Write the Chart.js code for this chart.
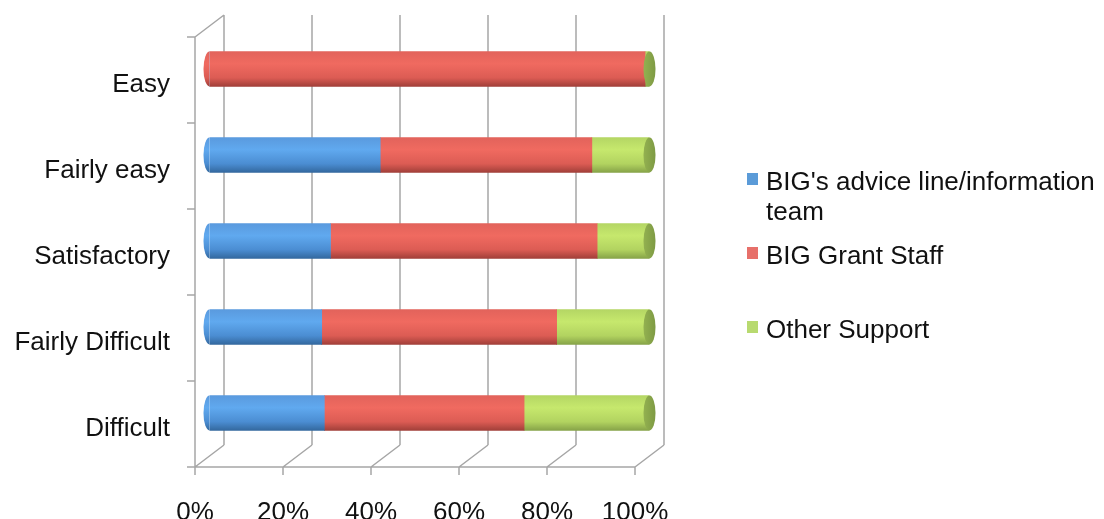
<!DOCTYPE html>
<html>
<head>
<meta charset="utf-8">
<script src="https://cdn.jsdelivr.net/npm/chart.js@4.4.0/dist/chart.umd.min.js"></script>
<style>
  html, body { margin: 0; padding: 0; background: #ffffff; }
  #wrap { position: relative; width: 1104px; height: 519px; }
</style>
</head>
<body>
<div id="wrap"><canvas id="c" width="1104" height="519"></canvas></div>
<script>
const categories = ['Easy', 'Fairly easy', 'Satisfactory', 'Fairly Difficult', 'Difficult'];
const adviceLine = [0, 38.8, 27.5, 25.5, 26.1];
const grantStaff = [99, 48.1, 60.6, 53.4, 45.4];
const otherSupport = [1, 13.1, 11.9, 21.1, 28.5];
const seriesNames = ["BIG's advice line/information team", 'BIG Grant Staff', 'Other Support'];
const xTickValues = [0, 20, 40, 60, 80, 100];

const FONT = '"Liberation Sans", Arial, sans-serif';
const DX = 14.5, DY = 11;   // half depth offset of the 3D frame
const BAR_H = 35;

function cyl(stops, flat) {
  return (ctx) => {
    const chart = ctx.chart;
    const ys = chart.scales && chart.scales.y;
    if (!ys || ctx.dataIndex === undefined) return flat;
    const yc = ys.getPixelForValue(ctx.dataIndex);
    if (!isFinite(yc)) return flat;
    const g = chart.ctx.createLinearGradient(0, yc - BAR_H / 2, 0, yc + BAR_H / 2);
    stops.forEach(s => g.addColorStop(s[0], s[1]));
    return g;
  };
}

const blueStops = [[0, '#5a9ade'], [0.35, '#60a9ef'], [0.75, '#4b8dd2'], [1, '#33689e']];
const redStops = [[0, '#e2635b'], [0.35, '#f06a60'], [0.75, '#dc5c54'], [1, '#a13f39']];
const greenStops = [[0, '#b4d664'], [0.35, '#c6e86d'], [0.75, '#b2d360'], [1, '#86a348']];
const legendColors = ['#5b9bd8', '#e7706a', '#b8da70'];

function noPad(s) {
  s.paddingTop = 0; s.paddingBottom = 0; s.paddingLeft = 0; s.paddingRight = 0;
}

const frame3d = {
  id: 'frame3d',
  beforeDatasetsDraw(chart) {
    const { ctx, chartArea: a, scales: { x } } = chart;
    ctx.save();
    ctx.strokeStyle = '#a6a6a6';
    ctx.lineWidth = 1.5;
    ctx.beginPath();
    xTickValues.forEach(v => {
      const px = x.getPixelForValue(v);
      ctx.moveTo(px + DX, a.top - DY);
      ctx.lineTo(px + DX, a.bottom - DY);
      ctx.moveTo(px - DX, a.bottom + DY);
      ctx.lineTo(px + DX, a.bottom - DY);
      ctx.moveTo(px - DX, a.bottom + DY);
      ctx.lineTo(px - DX, a.bottom + DY + 8);
    });
    const x0 = x.getPixelForValue(0), x1 = x.getPixelForValue(100);
    ctx.moveTo(x0 - DX, a.bottom + DY);
    ctx.lineTo(x1 - DX, a.bottom + DY);
    ctx.moveTo(x0 - DX, a.top + DY);
    ctx.lineTo(x0 - DX, a.bottom + DY);
    ctx.moveTo(x0 - DX, a.top + DY);
    ctx.lineTo(x0 + DX, a.top - DY);
    const n = categories.length;
    const band = (a.bottom - a.top) / n;
    for (let i = 0; i <= n; i++) {
      const yy = a.top + DY + band * i;
      ctx.moveTo(x0 - DX - 8, yy);
      ctx.lineTo(x0 - DX, yy);
    }
    ctx.stroke();
    ctx.restore();
  },
  afterDatasetsDraw(chart) {
    const { ctx } = chart;
    const metas = chart.data.datasets.map((d, i) => chart.getDatasetMeta(i));
    ctx.save();
    categories.forEach((c, i) => {
      let first = -1, last = -1;
      chart.data.datasets.forEach((d, k) => {
        if (d.data[i] > 0) { if (first < 0) first = k; last = k; }
      });
      if (first < 0) return;
      const fe = metas[first].data[i];
      const le = metas[last].data[i];
      const h = fe.height / 2;
      ctx.beginPath();
      ctx.ellipse(fe.base, fe.y, 6, h, 0, Math.PI / 2, Math.PI * 1.5);
      ctx.closePath();
      ctx.fillStyle = fe.options.backgroundColor;
      ctx.fill();
      ctx.beginPath();
      ctx.ellipse(le.x, le.y, 6, le.height / 2, 0, 0, Math.PI * 2);
      const g = ctx.createLinearGradient(le.x - 6, 0, le.x + 6, 0);
      g.addColorStop(0, '#93b150');
      g.addColorStop(1, '#7e9a44');
      ctx.fillStyle = g;
      ctx.fill();
    });
    ctx.restore();
  }
};

const legendPlugin = {
  id: 'sideLegend',
  afterDraw(chart) {
    const { ctx } = chart;
    ctx.save();
    ctx.font = '26px ' + FONT;
    ctx.textBaseline = 'middle';
    ctx.textAlign = 'left';
    const items = [
      { lines: ["BIG's advice line/information", 'team'], y: 183 },
      { lines: [seriesNames[1]], y: 257 },
      { lines: [seriesNames[2]], y: 331 }
    ];
    items.forEach((it, k) => {
      ctx.fillStyle = legendColors[k];
      ctx.fillRect(747, it.y - 10, 11, 12);
      ctx.fillStyle = '#111';
      it.lines.forEach((ln, j) => ctx.fillText(ln, 766, it.y + j * 30));
    });
    ctx.restore();
  }
};

new Chart(document.getElementById('c'), {
  type: 'bar',
  data: {
    labels: categories,
    datasets: [
      { label: seriesNames[0], data: adviceLine, backgroundColor: cyl(blueStops, '#5aa0e6') },
      { label: seriesNames[1], data: grantStaff, backgroundColor: cyl(redStops, '#ec675e') },
      { label: seriesNames[2], data: otherSupport, backgroundColor: cyl(greenStops, '#c0e26a') }
    ]
  },
  options: {
    indexAxis: 'y',
    responsive: false,
    animation: false,
    events: [],
    barThickness: BAR_H,
    borderWidth: 0,
    layout: { padding: { top: 26, right: 454.5, left: 0, bottom: 0 } },
    plugins: { legend: { display: false }, tooltip: { enabled: false } },
    scales: {
      x: {
        stacked: true,
        min: 0, max: 100,
        afterBuildTicks: (s) => { s.ticks = xTickValues.map(v => ({ value: v })); },
        afterFit: (s) => { s.height = 63; noPad(s); },
        grid: { display: false, drawTicks: false, tickLength: 0 },
        border: { display: false },
        ticks: {
          padding: 41,
          labelOffset: -DX,
          color: '#111',
          font: { family: FONT, size: 26 },
          callback: (v) => v + '%'
        }
      },
      y: {
        stacked: true,
        afterFit: (s) => { s.width = 209.5; noPad(s); },
        grid: { display: false, drawTicks: false, tickLength: 0 },
        border: { display: false },
        ticks: {
          padding: 39.5,
          labelOffset: 16,
          color: '#111',
          font: { family: FONT, size: 26 }
        }
      }
    }
  },
  plugins: [frame3d, legendPlugin]
});
</script>
</body>
</html>
